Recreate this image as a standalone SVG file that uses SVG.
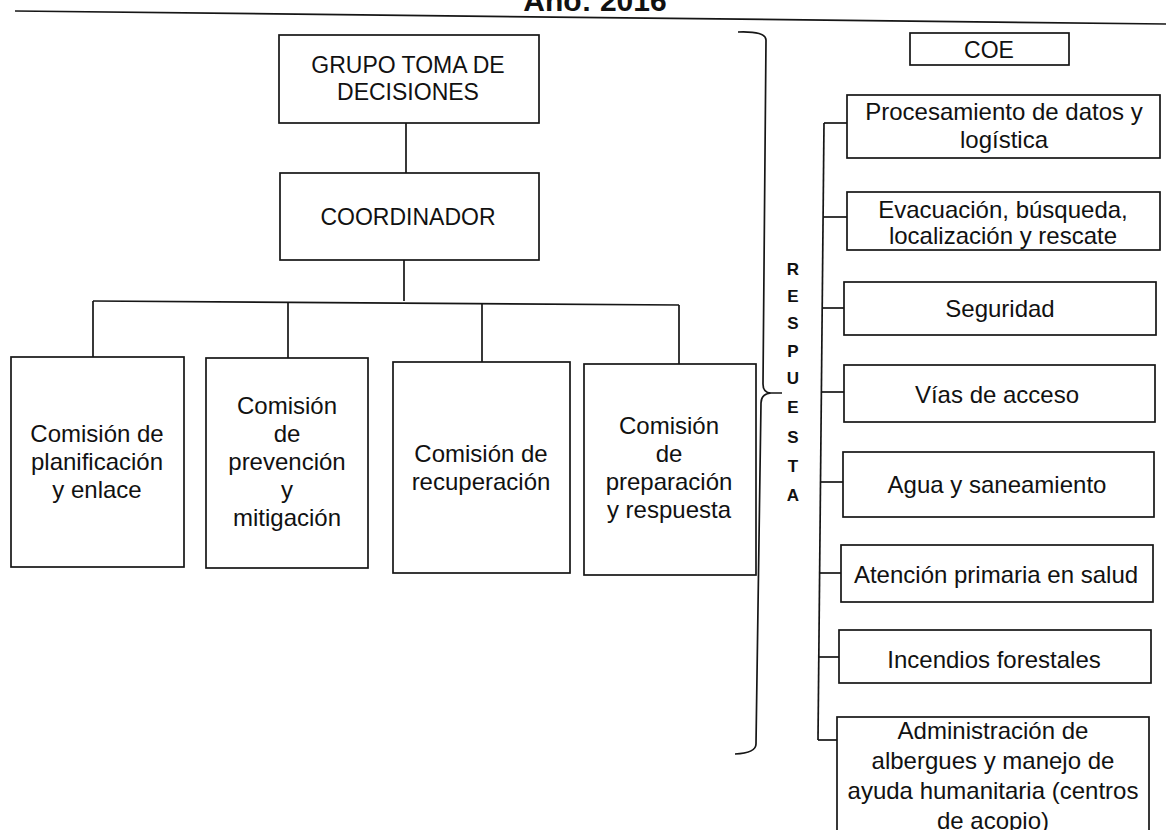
<svg xmlns="http://www.w3.org/2000/svg" width="1166" height="830" viewBox="0 0 1166 830">
<style>
.box{fill:#fff;stroke:#161616;stroke-width:1.7}
.ln{fill:none;stroke:#161616;stroke-width:1.7}
text{font-family:"Liberation Sans",Arial,sans-serif;fill:#111;text-anchor:middle}
.t23{font-size:23px}
.t24{font-size:24px}
.vl{font-size:17px;font-weight:bold}
.title{font-size:30px;font-weight:bold}
</style>
<rect width="1166" height="830" fill="#fff"/>
<g id="title">
<text class="title" x="595" y="11">Año: 2016</text>
<path class="ln" d="M15,11 L1166,24" stroke-width="2.2"/>
</g>
<g id="connectors">
<path class="ln" d="M406,123 V173"/>
<path class="ln" d="M404,260 V301"/>
<path class="ln" d="M93,301 L679,305"/>
<path class="ln" d="M93,301 V357"/>
<path class="ln" d="M288,302 V358"/>
<path class="ln" d="M482,303 V362"/>
<path class="ln" d="M679,305 V364"/>
<path class="ln" d="M824,123 L818,740"/>
<path class="ln" d="M824,123 H847"/>
<path class="ln" d="M823,217 H847"/>
<path class="ln" d="M822,308 H844"/>
<path class="ln" d="M821,392 H844"/>
<path class="ln" d="M820,482 H843"/>
<path class="ln" d="M819,573 H841"/>
<path class="ln" d="M818,657 H839"/>
<path class="ln" d="M818,740 H837"/>
</g>
<g id="brace">
<path class="ln" d="M738,32 Q766,31 766,40 L763,384 Q763,393 771,393 L782,393 M771,393 Q761,394 761,403 L756,744 Q756,753 735,754"/>
</g>
<g id="respuesta">
<text class="vl" x="793" y="275">R</text>
<text class="vl" x="793" y="302">E</text>
<text class="vl" x="793" y="329">S</text>
<text class="vl" x="793" y="357">P</text>
<text class="vl" x="793" y="384">U</text>
<text class="vl" x="793" y="413">E</text>
<text class="vl" x="793" y="443">S</text>
<text class="vl" x="793" y="472">T</text>
<text class="vl" x="793" y="501">A</text>
</g>
<g id="grupo">
<rect class="box" x="279" y="35" width="260" height="88"/>
<text class="t23" x="408" y="73">GRUPO TOMA DE</text>
<text class="t23" x="408" y="100">DECISIONES</text>
</g>
<g id="coordinador">
<rect class="box" x="280" y="173" width="259" height="87"/>
<text class="t23" x="408" y="225">COORDINADOR</text>
</g>
<g id="com-planificacion">
<rect class="box" x="11" y="357" width="173" height="210"/>
<text class="t24" x="97" y="442">Comisión de</text>
<text class="t24" x="97" y="470">planificación</text>
<text class="t24" x="97" y="498">y enlace</text>
</g>
<g id="com-prevencion">
<rect class="box" x="206" y="358" width="162" height="210"/>
<text class="t24" x="287" y="414">Comisión</text>
<text class="t24" x="287" y="442">de</text>
<text class="t24" x="287" y="470">prevención</text>
<text class="t24" x="287" y="498">y</text>
<text class="t24" x="287" y="526">mitigación</text>
</g>
<g id="com-recuperacion">
<rect class="box" x="393" y="362" width="177" height="211"/>
<text class="t24" x="481" y="462">Comisión de</text>
<text class="t24" x="481" y="490">recuperación</text>
</g>
<g id="com-preparacion">
<rect class="box" x="584" y="364" width="172" height="211"/>
<text class="t24" x="669" y="434">Comisión</text>
<text class="t24" x="669" y="462">de</text>
<text class="t24" x="669" y="490">preparación</text>
<text class="t24" x="669" y="518">y respuesta</text>
</g>
<g id="coe">
<rect class="box" x="910" y="33" width="159" height="32"/>
<text class="t23" x="989" y="58">COE</text>
</g>
<g id="procesamiento">
<rect class="box" x="847" y="95" width="313" height="63"/>
<text class="t24" x="1004" y="120">Procesamiento de datos y</text>
<text class="t24" x="1004" y="148">logística</text>
</g>
<g id="evacuacion">
<rect class="box" x="847" y="192" width="313" height="58"/>
<text class="t24" x="1003" y="218">Evacuación, búsqueda,</text>
<text class="t24" x="1003" y="244">localización y rescate</text>
</g>
<g id="seguridad">
<rect class="box" x="844" y="282" width="312" height="53"/>
<text class="t24" x="1000" y="317">Seguridad</text>
</g>
<g id="vias">
<rect class="box" x="844" y="365" width="311" height="57"/>
<text class="t24" x="997" y="403">Vías de acceso</text>
</g>
<g id="agua">
<rect class="box" x="843" y="452" width="311" height="65"/>
<text class="t24" x="997" y="493">Agua y saneamiento</text>
</g>
<g id="atencion">
<rect class="box" x="841" y="545" width="312" height="57"/>
<text class="t24" x="996" y="583">Atención primaria en salud</text>
</g>
<g id="incendios">
<rect class="box" x="839" y="630" width="312" height="53"/>
<text class="t24" x="994" y="668">Incendios forestales</text>
</g>
<g id="albergues">
<rect class="box" x="837" y="717" width="312" height="130"/>
<text class="t24" x="993" y="739">Administración de</text>
<text class="t24" x="993" y="769">albergues y manejo de</text>
<text class="t24" x="993" y="799">ayuda humanitaria (centros</text>
<text class="t24" x="993" y="829">de acopio)</text>
</g>
</svg>
